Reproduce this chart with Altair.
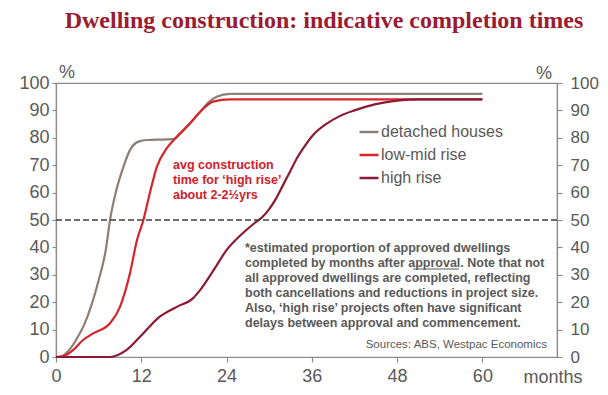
import altair as alt
import pandas as pd

# ---- data ----
det_months = [0, 0.5, 1, 2, 3, 4, 5, 6, 7, 7.6, 8.5, 9.5, 10.4, 11.6, 12.8, 14, 16.5, 17.5, 18.9, 20.3, 21.5, 22.6, 24.5, 30, 40, 50, 60]
det_values = [0, 0, 0.5, 3, 7, 12, 19, 28, 39, 50, 61, 69.5, 75.5, 78.6, 79.2, 79.3, 79.5, 81.5, 85.4, 89.5, 93, 95, 96, 96, 96, 96, 96]

low_months = [0, 1, 2.4, 3.8, 5.3, 7.6, 9, 10.4, 11.4, 12.3, 13.2, 14.2, 15.6, 17, 18.9, 20.3, 22.1, 24.5, 30, 40, 50, 60]
low_values = [0, 0.3, 2.5, 6.2, 8.7, 12.3, 18.3, 30.5, 42.7, 50, 59.8, 69.5, 76.2, 80.4, 85.4, 89.5, 93.2, 94, 94, 94, 94, 94]

high_months = [0, 7.6, 9.9, 12.3, 14.6, 17, 19.3, 20.3, 22.2, 24, 26, 28, 29, 30, 31, 32, 33, 34, 35, 36, 38, 40, 42, 45, 48, 51, 60]
high_values = [0, 0, 2.5, 8.7, 14.7, 18.3, 21.5, 24.5, 31.8, 39, 44.5, 49, 51, 54, 58, 63, 68, 73, 77, 80.5, 85, 88, 90, 92.3, 93.6, 94, 94]

series_names = ["detached houses", "low-mid rise", "high rise"]
series_colors = ["#8b7f76", "#d9232b", "#8c1a34"]
x_ticks = [0, 12, 24, 36, 48, 60]
y_ticks = [0, 10, 20, 30, 40, 50, 60, 70, 80, 90, 100]
threshold = [50]

title_text = "Dwelling construction: indicative completion times"
annot_lines = ["avg construction", "time for \u2018high rise\u2019", "about 2-2\u00bdyrs"]
note_lines = [
    "*estimated proportion of approved dwellings",
    "completed by months after approval. Note that not",
    "all approved dwellings are completed, reflecting",
    "both cancellations and reductions in project size.",
    "Also, \u2018high rise\u2019 projects often have significant",
    "delays between approval and commencement.",
]
source_text = "Sources: ABS, Westpac Economics"

# ---- build table ----
rows = []
for name, ms, vs in zip(series_names, [det_months, low_months, high_months], [det_values, low_values, high_values]):
    for m, v in zip(ms, vs):
        rows.append({"series": name, "month": m, "value": v})
df = pd.DataFrame(rows)

GRAY = "#595959"
AX = "#8c8c8c"
FONT = "Liberation Sans"
W, H = 501, 274

xscale = alt.Scale(domain=[0, 70.5], nice=False, zero=False)
yscale = alt.Scale(domain=[0, 100], nice=False)

lines = alt.Chart(df).mark_line(interpolate="monotone", strokeWidth=2.2).encode(
    x=alt.X("month:Q", scale=xscale,
            axis=alt.Axis(values=x_ticks, title=None, grid=False, tickSize=5, labelPadding=5,
                          labelFontSize=18, labelColor=GRAY, labelFont=FONT, domainColor=AX,
                          tickColor=AX, labelFlush=False)),
    y=alt.Y("value:Q", scale=yscale,
            axis=alt.Axis(values=y_ticks, title=None, grid=False, tickSize=4, labelPadding=3,
                          labelFontSize=18, labelColor=GRAY, labelFont=FONT, domainColor=AX,
                          tickColor=AX, orient="left")),
    color=alt.Color("series:N", scale=alt.Scale(domain=series_names, range=series_colors),
                    sort=series_names,
                    legend=alt.Legend(title=None, orient="none", legendX=302, legendY=38,
                                      symbolType="stroke", symbolSize=361, symbolStrokeWidth=2.5,
                                      labelFontSize=16, labelColor=GRAY, labelFont=FONT,
                                      rowPadding=4, labelOffset=1)),
    order=alt.Order("month:Q"),
)

thr_df = pd.DataFrame({"v": threshold})
rule = alt.Chart(thr_df).mark_rule(color="#404040", strokeWidth=1.5, strokeDash=[6, 3]).encode(
    y=alt.Y("v:Q", scale=yscale,
            axis=alt.Axis(values=y_ticks, title=None, grid=False, tickSize=5, labelPadding=8,
                          labelFontSize=17, labelColor=GRAY, labelFont=FONT, domainColor=AX,
                          tickColor=AX, orient="right")),
)

def txt(text, x, y, size, color, weight="normal", align="left", font=FONT, baseline="middle"):
    return alt.Chart(pd.DataFrame({"t": [text]})).mark_text(
        align=align, baseline=baseline, fontSize=size, color=color, fontWeight=weight, font=font
    ).encode(x=alt.value(x), y=alt.value(y), text="t:N")

layers = [lines, rule]
layers.append(txt(title_text, 268, -62, 24, "#9b1c31", weight="bold", align="center", font="Liberation Serif"))
layers.append(txt("%", 11, -10, 18, GRAY, align="center"))
layers.append(txt("%", 488, -9, 18, GRAY, align="center"))
layers.append(txt("months", 497, 295, 18, GRAY, align="center"))
for i, s in enumerate(annot_lines):
    layers.append(txt(s, 117, 82 + 15 * i, 12.5, "#d0202a", weight="bold"))
for i, s in enumerate(note_lines):
    layers.append(txt(s, 189, 165 + 15 * i, 12.5, GRAY, weight="bold"))
# underline of "approval" in the note
layers.append(
    alt.Chart(pd.DataFrame({"k": [0]})).mark_rule(color=GRAY, strokeWidth=1).encode(
        x=alt.value(357), x2=alt.value(403), y=alt.value(186)
    )
)
layers.append(txt(source_text, 491, 262, 11.5, GRAY, align="right"))

chart = alt.layer(*layers).resolve_scale(y="independent").properties(
    width=W, height=H,
    autosize=alt.AutoSizeParams(type="none"),
    padding={"left": 48, "top": 75, "right": 43, "bottom": 30},
).configure_view(stroke=AX, strokeWidth=1.2).configure_axis(domainWidth=1.2, tickWidth=1.2)

chart.save("out.html", embed_options={"renderer": "svg", "actions": False})
